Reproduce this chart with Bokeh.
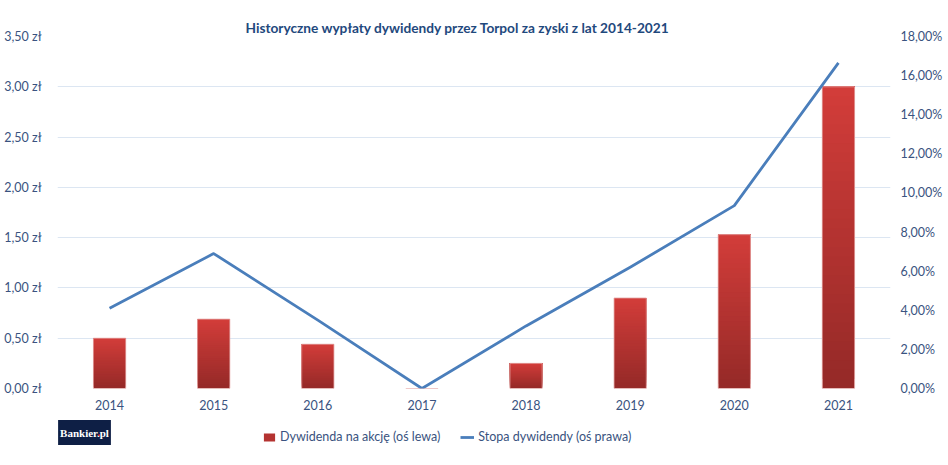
import numpy as np
from bokeh.plotting import figure
from bokeh.layouts import column
from bokeh.models import (Range1d, LinearAxis, FixedTicker, Legend, LegendItem, Label,
                          ColumnDataSource, FactorRange)
from bokeh.embed import file_html
from bokeh.resources import INLINE

# ---- data ----
years = ["2014", "2015", "2016", "2017", "2018", "2019", "2020", "2021"]
dividend = [0.50, 0.69, 0.44, 0.00, 0.25, 0.90, 1.53, 3.00]          # zł per share (left axis)
yield_pct = [4.10, 6.90, 3.50, 0.00, 3.20, 6.20, 9.35, 16.65]        # % (right axis)
left_ticks = [0.0, 0.5, 1.0, 1.5, 2.0, 2.5, 3.0, 3.5]
left_labels = ["0,00 zł", "0,50 zł", "1,00 zł", "1,50 zł", "2,00 zł", "2,50 zł", "3,00 zł", "3,50 zł"]
right_ticks = [0, 2, 4, 6, 8, 10, 12, 14, 16, 18]
right_labels = ["0,00%", "2,00%", "4,00%", "6,00%", "8,00%", "10,00%", "12,00%", "14,00%", "16,00%", "18,00%"]
title_text = "Historyczne wypłaty dywidendy przez Torpol za zyski z lat 2014-2021"
bar_label = "Dywidenda na akcję (oś lewa)"
line_label = "Stopa dywidendy (oś prawa)"
logo_text = "Bankier.pl"

FONT = "Lato"
TXT = "#3A5380"
GRID = "#DCE6F2"
BAR_TOP = np.array([0xD2, 0x3D, 0x3A])
BAR_BOT = np.array([0x96, 0x2A, 0x28])
LINE_C = "#4A7EBB"

W = 948
H_TOTAL = 465
H_MAIN = 412
FRAME_LEFT = 57
p = figure(width=W, height=H_MAIN, x_range=FactorRange(*years), y_range=Range1d(0, 3.5),
           output_backend="svg", toolbar_location=None,
           min_border_left=FRAME_LEFT, min_border_right=58, min_border_top=36, min_border_bottom=24)
p.extra_y_ranges = {"pct": Range1d(0, 18)}
p.outline_line_color = None
p.background_fill_color = "white"
p.border_fill_color = "white"

# title
p.title.text = title_text
p.title.align = "left"
p.title.offset = 188
p.title.standoff = 2
p.title.text_font = FONT
p.title.text_font_style = "bold"
p.title.text_font_size = "13.7px"
p.title.text_color = "#1F497D"

# gradient bars built from stacked slices of each value
N = 32
xs, bots, tops, cols = [], [], [], []
for yr, v in zip(years, dividend):
    if v <= 0:
        continue
    for k in range(N):
        f = k / (N - 1)
        c = (BAR_BOT + (BAR_TOP - BAR_BOT) * f).astype(int)
        xs.append(yr)
        bots.append(v * k / N)
        tops.append(v)
        cols.append("#%02x%02x%02x" % tuple(c))
src = ColumnDataSource(dict(x=xs, bottom=bots, top=tops, color=cols))
p.vbar(x="x", bottom="bottom", top="top", width=0.31, source=src,
       fill_color="color", line_color=None)
p.vbar(x=years, top=dividend, width=0.31, fill_color=None, line_color="#E6A9A7",
       line_width=1, line_alpha=0.8)

p.line(x=years, y=yield_pct, y_range_name="pct", line_color=LINE_C,
       line_width=2.8, line_join="round")

# axes
ya = p.yaxis[0]
ya.ticker = FixedTicker(ticks=left_ticks)
ya.major_label_overrides = dict(zip(left_ticks, left_labels))
ra = LinearAxis(y_range_name="pct", ticker=FixedTicker(ticks=right_ticks),
                major_label_overrides=dict(zip(right_ticks, right_labels)))
p.add_layout(ra, "right")
for ax in [ya, ra, p.xaxis[0]]:
    ax.axis_line_color = None
    ax.major_tick_line_color = None
    ax.minor_tick_line_color = None
    ax.major_label_text_font = FONT
    ax.major_label_text_font_size = "12.5px"
    ax.major_label_text_color = TXT
ya.major_label_standoff = 10
ra.major_label_standoff = 4
p.xaxis[0].major_label_standoff = 5

p.xgrid.grid_line_color = None
p.ygrid.ticker = FixedTicker(ticks=left_ticks)
p.ygrid.grid_line_color = GRID
p.ygrid.grid_line_width = 1.2

# ---- bottom strip: logo + legend (its frame is aligned with the chart frame) ----
SH = H_TOTAL - H_MAIN
s = figure(width=W, height=SH, x_range=Range1d(0, 1), y_range=Range1d(0, 1),
           output_backend="svg", toolbar_location=None, min_border=0,
           x_axis_location=None, y_axis_location=None)
s.grid.visible = False
s.outline_line_color = None
s.background_fill_color = "white"
s.border_fill_color = "white"

# hidden renderers that only supply the legend keys
mid = "#%02x%02x%02x" % tuple(((BAR_TOP + BAR_BOT) / 2).astype(int))
idx = list(range(len(years)))
key_bar = s.vbar(x=idx, top=dividend, width=0.31, fill_color=mid, line_color=None, visible=False)
key_line = s.line(x=idx, y=yield_pct, line_color=LINE_C, line_width=2.8, visible=False)

# logo: box centred at page x=84, y=432 (screen units relative to the strip frame)
LOGO_CX = 84 - FRAME_LEFT
LOGO_Y = H_TOTAL - 432
LOGO_FS = 11
s.add_layout(Label(x=LOGO_CX, y=LOGO_Y, x_units="screen", y_units="screen", text=logo_text,
                   text_font="Liberation Serif", text_font_style="bold",
                   text_font_size=f"{LOGO_FS}px",
                   text_color="white", text_align="center", text_baseline="middle",
                   background_fill_color="#0E1F45",
                   padding=dict(left=2, right=2, top=7, bottom=6)))
# red dot of the logo (Times-metric widths: "Bankier" = 3.445 em, full text = 4.53 em)
dot_x = LOGO_CX - 4.53 * LOGO_FS / 2 + 3.445 * LOGO_FS
s.add_layout(Label(x=dot_x, y=LOGO_Y, x_units="screen", y_units="screen", text=".",
                   text_font="Liberation Serif", text_font_style="bold",
                   text_font_size=f"{LOGO_FS}px", text_color="#E0262B",
                   text_align="left", text_baseline="middle"))

# legend: left edge at page x=262, bottom at page y=444
legend = Legend(items=[LegendItem(label=bar_label, renderers=[key_bar]),
                       LegendItem(label=line_label, renderers=[key_line])],
                orientation="horizontal", location=(262 - FRAME_LEFT, H_TOTAL - 444),
                margin=0, padding=0,
                glyph_width=14, glyph_height=10, label_height=10, label_standoff=4, spacing=20,
                label_text_font=FONT, label_text_font_size="12.5px", label_text_color=TXT,
                border_line_color=None, background_fill_alpha=0)
s.add_layout(legend, "center")

layout = column(p, s, spacing=0)
open("out.html", "w").write(file_html(layout, INLINE))
